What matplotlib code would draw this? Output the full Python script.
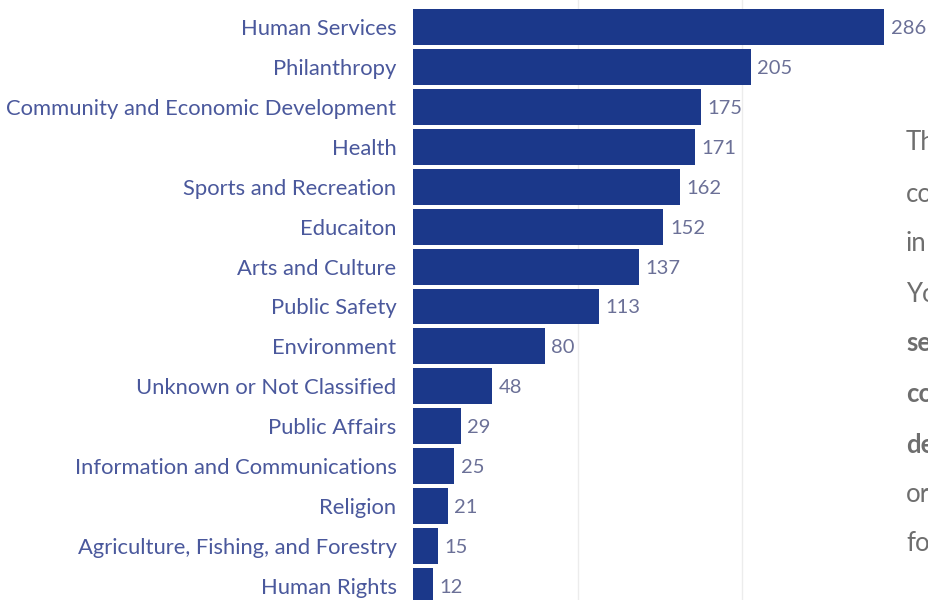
import matplotlib
matplotlib.use("Agg")
import matplotlib.pyplot as plt

categories = ["Human Services", "Philanthropy", "Community and Economic Development",
              "Health", "Sports and Recreation", "Educaiton", "Arts and Culture",
              "Public Safety", "Environment", "Unknown or Not Classified",
              "Public Affairs", "Information and Communications", "Religion",
              "Agriculture, Fishing, and Forestry", "Human Rights"]
counts = [286, 205, 175, 171, 162, 152, 137, 113, 80, 48, 29, 25, 21, 15, 12]

# right-hand paragraph, cut off by the picture edge in the original
side_text = ["Th", "co", "in", "Yo", "se", "co", "de", "or", "fo"]
side_bold = [False, False, False, False, True, True, True, False, False]

plt.rcParams['font.family'] = ['Lato', 'DejaVu Sans']

W, H = 929, 600
fig = plt.figure(figsize=(W / 100, H / 100), dpi=100)
left = 413
ax = fig.add_axes([left / W, 0, 1 - left / W, 1])

pitch = 39.93
ypos = list(range(len(categories)))
ax.barh(ypos, counts, height=0.9, color="#1b388a", zorder=2)
ax.set_ylim(14 + (H - 586) / pitch, -27 / pitch)
ax.set_xlim(0, (W - left) / 1.647)

for v in [100, 200]:
    ax.axvline(v, color="#ececec", lw=1, zorder=1)

for y, (c, v) in enumerate(zip(categories, counts)):
    ax.text(-10, y, c, ha="right", va="center_baseline", fontsize=15.8, color="#4a589c")
    ax.text(v + 4, y, str(v), ha="left", va="center_baseline", fontsize=14.5, color="#6b7097")

ax.set_xticks([])
ax.set_yticks([])
for s in ax.spines.values():
    s.set_visible(False)

ys = [140, 192, 241, 292, 341, 392, 443, 492, 541]
for t, b, yy in zip(side_text, side_bold, ys):
    fig.text(906 / W, 1 - yy / H, t, ha="left", va="center_baseline", fontsize=18.5,
             color="#6e6e6e", fontweight="bold" if b else "normal")

fig.savefig("out.png", dpi=100)
